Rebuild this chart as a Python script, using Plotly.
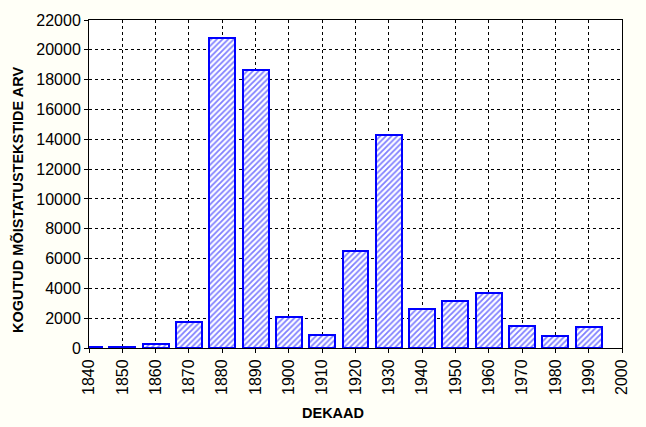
import plotly.graph_objects as go

decades = [1840, 1850, 1860, 1870, 1880, 1890, 1900, 1910, 1920, 1930,
           1940, 1950, 1960, 1970, 1980, 1990]
counts = [40, 40, 260, 1720, 20780, 18650, 2060, 870, 6500, 14300,
          2600, 3130, 3700, 1480, 800, 1390]
x_ticks = list(range(1840, 2001, 10))
y_ticks = list(range(0, 22001, 2000))
x_title = "DEKAAD"
y_title = "KOGUTUD MÕISTATUSTEKSTIDE ARV"

fig = go.Figure()
fig.add_trace(go.Bar(
    x=decades, y=counts, width=7.8,
    marker=dict(color="white",
                line=dict(color="#0000FF", width=2),
                pattern=dict(shape="/", fgcolor="#0000FF", bgcolor="white",
                             size=4, solidity=0.45)),
))

font = "Arial, Liberation Sans, sans-serif"
L, R, T, B = 89, 24, 20, 79
W, H = 646, 427
pw, ph = W - L - R, H - T - B
fig.update_layout(
    width=W, height=H,
    paper_bgcolor="#FFFFF7", plot_bgcolor="white",
    margin=dict(l=L, r=R, t=T, b=B, autoexpand=False),
    showlegend=False, bargap=0,
    font=dict(family=font, color="black", size=16),
)
fig.update_xaxes(
    range=[1840, 2000], tickvals=x_ticks, ticktext=[str(v) for v in x_ticks],
    tickangle=-90, ticks="outside", ticklen=4, tickcolor="black",
    showline=True, linecolor="black", linewidth=1, mirror=True,
    showgrid=True, gridcolor="black", griddash="dot", gridwidth=1,
    zeroline=False, automargin=False,
)
fig.update_yaxes(
    range=[0, 22000], tickvals=y_ticks, ticktext=[str(v) for v in y_ticks],
    ticks="outside", ticklen=4, tickcolor="black",
    showline=True, linecolor="black", linewidth=1, mirror=True,
    showgrid=True, gridcolor="black", griddash="dot", gridwidth=1,
    zeroline=False, automargin=False,
)
fig.add_annotation(text="<b>" + x_title + "</b>", xref="paper", yref="paper",
                   x=(333 - L) / pw, y=(H - B - 413) / ph,
                   xanchor="center", yanchor="middle", showarrow=False,
                   font=dict(size=14.5))
fig.add_annotation(text="<b>" + y_title + "</b>", xref="paper", yref="paper",
                   x=(17 - L) / pw, y=(H - B - 200) / ph, textangle=-90,
                   xanchor="center", yanchor="middle", showarrow=False,
                   font=dict(size=14.5))
fig.write_html("out.html", config={"displayModeBar": False})

with open("out.html", encoding="utf-8") as f:
    html = f.read()
html = html.replace("<body>", '<body style="margin:0;background:#FFFFF7">', 1)
with open("out.html", "w", encoding="utf-8") as f:
    f.write(html)
